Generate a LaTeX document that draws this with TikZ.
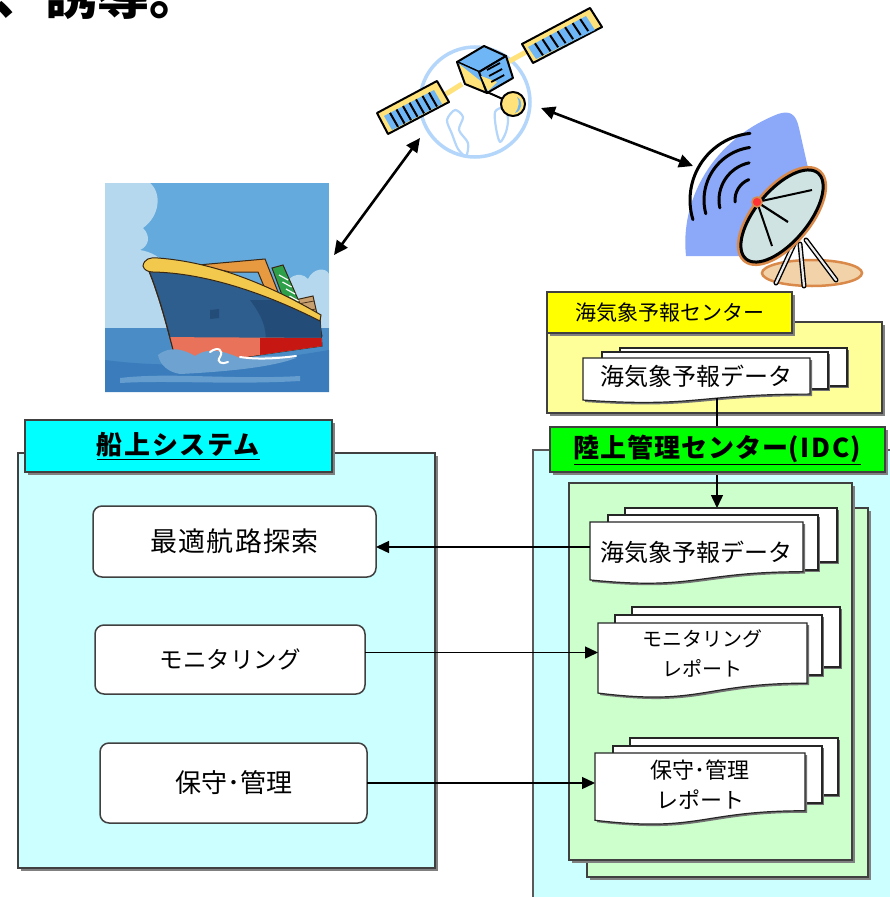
\documentclass[tikz,border=0pt]{standalone}
\usepackage{fontspec}
\setmainfont{Noto Sans CJK JP}
\usetikzlibrary{arrows.meta,shadows}

\definecolor{skyA}{HTML}{64AADC}
\definecolor{cloud}{HTML}{B6D8EE}
\definecolor{sea}{HTML}{4A8CC6}
\definecolor{seaD}{HTML}{3A7CBC}
\definecolor{hull}{HTML}{2E5E8E}
\definecolor{hullD}{HTML}{234C78}
\definecolor{gunwale}{HTML}{F2C94C}
\definecolor{redhull}{HTML}{E8735A}
\definecolor{boom}{HTML}{E89A40}
\definecolor{cont}{HTML}{2EA04A}
\definecolor{cargo}{HTML}{C8A070}
\definecolor{satY}{HTML}{FFE27A}
\definecolor{satB}{HTML}{6EB6F6}
\definecolor{globe}{HTML}{B4D6FA}
\definecolor{wedge}{HTML}{8CA8F8}
\definecolor{dishin}{HTML}{CFE4E2}
\definecolor{rim}{HTML}{D98A4A}
\definecolor{ground}{HTML}{F2D2A8}
\definecolor{lcyan}{HTML}{CCFFFF}
\definecolor{hcyan}{HTML}{00FFFF}
\definecolor{hyellow}{HTML}{FFFF00}
\definecolor{pyellow}{HTML}{FFFF99}
\definecolor{pgreen}{HTML}{CCFFCC}
\definecolor{bgreen}{HTML}{00FF00}
\definecolor{frame}{HTML}{404040}

\newcommand\fsz[2]{\fontsize{#1}{#2}\selectfont}
\newcommand\spaced[2]{{\addfontfeatures{LetterSpace=#1}#2}}

% a document sheet with a wavy lower edge: x1 y1 x2 y2
\newcommand\docsheet[4]{%
  \filldraw[docpg] (#1,#2) -- (#3,#2) -- (#3,{#2+0.802*(#4-#2)})
    .. controls ({(#1+#3)/2},{#2+0.802*(#4-#2)}) and ({(#1+#3)/2},{#2+1.107*(#4-#2)})
    .. (#1,{#2+0.934*(#4-#2)}) -- cycle;}
\newcommand\sheetback[4]{\filldraw[docpg] (#1,#2) rectangle (#3,#4);}

\tikzset{
  shad/.style={drop shadow={shadow xshift=3pt,shadow yshift=-3pt,fill=black!50,opacity=1}},
  panel/.style={draw=frame, line width=1.2pt, shad},
  hdr/.style={draw=frame, line width=1.2pt, shad, inner sep=0, outer sep=0},
  docpg/.style={fill=white, draw=black!85, line width=1.2pt,
    drop shadow={shadow xshift=2pt,shadow yshift=-2pt,fill=black!55,opacity=1}},
  doctxt/.style={inner sep=0, outer sep=0, align=center},
  rbox/.style={draw=frame, line width=1.5pt, fill=white, rounded corners=9pt, inner sep=0, outer sep=0},
  conn/.style={line width=1.4pt, -{Triangle[length=13pt,width=12pt]}},
  dbl/.style={line width=2.6pt, {Triangle[length=14pt,width=13pt]}-{Triangle[length=14pt,width=13pt]}},
  sat/.style={draw=black, line width=2pt, line join=round},
  globeline/.style={draw=globe, line width=2.2pt, line join=round},
}

\begin{document}
\begin{tikzpicture}[x=1pt,y=-1pt]
\useasboundingbox (0,0) rectangle (889,897);
\fill[white] (0,0) rectangle (889,897);

% heading line running off the top edge
\node[anchor=base west, inner sep=0] (ttl) at (-7,14) {\fsz{52}{60}\bfseries 、誘導。};

% ---------- globe ----------
\draw[globe, line width=3.5pt] (475,102) circle[radius=55];
\draw[globeline] plot[smooth cycle] coordinates {(447,120) (455,110) (463,117) (459,130) (468,143) (466,156) (458,149) (452,134)};
\draw[globeline] plot[smooth cycle] coordinates {(495,112) (503,108) (508,118) (506,132) (500,142) (496,128)};

% ---------- satellite ----------
\draw[satY, line width=5pt] (446,94) -- (462,84);
\draw[satY, line width=5pt] (506,63) -- (526,52);
\filldraw[sat, fill=satY] (377,113) -- (437,81) -- (449,102) -- (388,134) -- cycle;
\fill[satB] (384,116) -- (434,90) -- (442,104) -- (392,130) -- cycle;
\foreach \t in {0.12,0.25,0.38,0.51,0.64,0.77,0.9}
  \draw[line width=2pt] ({384+\t*50},{116-\t*26}) -- ({392+\t*50},{130-\t*26});
\filldraw[sat, fill=satY] (522,44) -- (590,8) -- (602,27) -- (533,63) -- cycle;
\fill[satB] (528,47) -- (586,16) -- (595,30) -- (536,59) -- cycle;
\foreach \t in {0.12,0.25,0.38,0.51,0.64,0.77,0.9}
  \draw[line width=2pt] ({528+\t*58},{47-\t*31}) -- ({536+\t*58},{59-\t*31});
% body
\filldraw[sat, fill=satB] (457,62) -- (484,46) -- (506,56) -- (479,72) -- cycle;
\filldraw[sat, fill=satY] (457,62) -- (479,72) -- (487,93) -- (465,84) -- cycle;
\fill[satB] (458,63) -- (478,72) -- (482,82) -- cycle;
\filldraw[sat, fill=satB] (479,72) -- (506,56) -- (513,78) -- (487,93) -- cycle;
\fill[satY] (481,76) -- (497,82) -- (488,91) -- cycle;
\foreach \s in {0,6,12}
  \draw[line width=1.8pt] ({487+\s*0.35},{70+\s}) -- ({500+\s*0.35},{63+\s});
% antenna ball
\draw[line width=2pt] (487,92) -- (505,100);
\filldraw[sat, fill=satY] (513,104) circle[radius=12];
\fill[satB] (517,97) .. controls (524,101) and (522,111) .. (515,113) .. controls (519,108) and (520,101) .. (517,97) -- cycle;

% ---------- ground station ----------
\fill[wedge] (686,256) .. controls (680,200) and (712,140) .. (778,114)
  .. controls (790,110) and (796,114) .. (799,128) -- (808,168) -- (748,256) -- cycle;
\foreach \r/\a/\b in {22/-112/-185, 38/-102/-192, 53/-98/-195, 67/-96/-197}
  \draw[line width=3pt, line cap=round] (757,200) ++(\a:\r) arc[start angle=\a, end angle=\b, radius=\r];
\filldraw[fill=ground, draw=rim, line width=2.5pt] (812,273) ellipse[x radius=50, y radius=13];
\foreach \p/\q in {{(795,242)}/{(776,283)}, {(800,244)}/{(804,286)}, {(806,240)}/{(836,280)}} {
  \draw[line width=5pt, line cap=round] \p -- \q;
  \draw[gray!15, line width=2.2pt, line cap=round] \p -- \q;
}
\draw[rim, line width=8pt, shift={(782,216)}, rotate=50] (0,0) ellipse[x radius=56, y radius=26];
\filldraw[fill=dishin, draw=black, line width=3pt, shift={(782,216)}, rotate=50] (0,0) ellipse[x radius=56, y radius=26];
\draw[line width=2.2pt] (757,202) -- (788,222);
\draw[line width=2pt] (757,202) -- (772,246);
\draw[line width=2pt] (757,202) -- (812,190);
\filldraw[fill=red!80!white, draw=rim, line width=1.5pt] (757,202) circle[radius=5];

% ---------- ship picture ----------
\begin{scope}
\clip (105,183) rectangle (329,392);
\fill[skyA] (105,183) rectangle (329,392);
\fill[cloud] (105,183) -- (150,183) .. controls (162,193) and (160,216) .. (143,228)
  .. controls (151,236) and (149,246) .. (140,250) .. controls (152,252) and (162,258) .. (166,266)
  -- (182,328) -- (105,328) -- cycle;
\fill[cloud] (283,292) .. controls (285,276) and (300,270) .. (308,279)
  .. controls (313,268) and (326,267) .. (329,274) -- (329,330) -- (283,330) -- cycle;
\fill[sea] (105,328) rectangle (329,392);
\fill[seaD] (105,360) .. controls (180,370) and (260,362) .. (329,350) -- (329,392) -- (105,392) -- cycle;
\fill[sea!85!white] (120,378) .. controls (170,372) and (230,380) .. (300,376) -- (300,381) .. controls (230,385) and (170,380) .. (120,383) -- cycle;
% cargo and superstructure
\filldraw[fill=boom, draw=black!70!brown, line width=1pt] (198,265) -- (265,259) -- (280,297) -- (268,296) -- (258,272) -- (230,272) -- cycle;
\filldraw[fill=cargo, draw=black!70!brown, line width=1pt] (295,300) -- (313,296) -- (322,336) -- (308,338) -- cycle;
\foreach \s in {0,8,16,24} \draw[black!60!brown, line width=0.8pt] ({298+\s*0.3},{304+\s}) -- ({314+\s*0.2},{301+\s});
\filldraw[fill=cont, draw=black!70!brown, line width=1pt] (272,268) -- (283,265) -- (301,306) -- (298,316) -- (289,314) -- cycle;
\foreach \s in {0,7,14,21} \draw[white, line width=1.2pt] ({279+\s*0.5},{275+\s}) -- ({288+\s*0.5},{280+\s});
% hull
\filldraw[fill=hull, draw=black!70!brown, line width=1pt]
  (145,262) .. controls (200,262) and (262,286) .. (320,318) -- (322,346)
  .. controls (280,352) and (220,360) .. (178,369)
  .. controls (168,330) and (158,290) .. (145,262) -- cycle;
\begin{scope}
\clip (145,262) .. controls (200,262) and (262,286) .. (320,318) -- (322,346)
  .. controls (280,352) and (220,360) .. (178,369)
  .. controls (168,330) and (158,290) .. (145,262) -- cycle;
\fill[hullD] (250,300) .. controls (265,320) and (270,335) .. (262,360) -- (330,360) -- (330,300) -- cycle;
\fill[redhull] (150,337) -- (330,338) -- (330,380) -- (150,380) -- cycle;
\fill[red!75!black!80!redhull] (260,338) -- (330,338) -- (330,380) -- (260,380) -- cycle;
\end{scope}
\draw[black!70!brown, line width=1pt] (178,369) .. controls (168,330) and (158,290) .. (145,262);
\filldraw[fill=gunwale, draw=black!70!brown, line width=1pt]
  (143,266) .. controls (144,259) and (150,257) .. (158,258)
  .. controls (212,262) and (266,283) .. (321,315) -- (320,321)
  .. controls (265,293) and (205,273) .. (153,272) .. controls (148,272) and (144,270) .. (143,266) -- cycle;
\fill[hullD] (210,310) -- (219,309) -- (219,318) -- (210,319) -- cycle;
% bow wave
\fill[sea!80!white] (158,355) .. controls (170,345) and (185,350) .. (195,356)
  .. controls (210,346) and (225,352) .. (240,358) .. controls (260,356) and (280,355) .. (296,358)
  .. controls (270,368) and (220,372) .. (180,374) .. controls (168,372) and (160,365) .. (158,355) -- cycle;
\draw[white, line width=2pt, line cap=round] (240,357) .. controls (260,360) and (280,358) .. (296,356);
\draw[white, line width=2pt, line cap=round] (210,352) .. controls (218,346) and (224,350) .. (220,357) .. controls (216,362) and (222,365) .. (228,362);
\end{scope}

% ---------- radio links ----------
\coordinate (shipA) at (334,255);
\coordinate (satA) at (420,138);
\coordinate (satB) at (541,108);
\coordinate (dishA) at (693,166);
\draw[dbl] (shipA) -- (satA);
\draw[dbl] (satB) -- (dishA);

% ---------- forecast centre ----------
\node[panel, fill=pyellow, inner sep=0, outer sep=0, minimum width=335, minimum height=91] (fcPanel) at (714.5,367.5) {};
\node[hdr, fill=hyellow, minimum width=245, minimum height=41] (fcHdr) at (669.5,312.5) {\fsz{21}{26}海気象予報センター};
\sheetback{620}{348}{847}{386}
\sheetback{602}{352}{828}{389}
\docsheet{583}{358}{810}{403}
\node[doctxt, minimum width=227, minimum height=45] (docA) at (696.5,380.5)
  {\fsz{24}{30}\raisebox{4.5pt}[\height][\depth]{海気象予報データ}};

% ---------- land-side centre ----------
\filldraw[fill=lcyan, draw=gray!70!black, line width=1.2pt] (533,450) rectangle (905,915);
\node[panel, fill=pgreen, inner sep=0, outer sep=0, minimum width=281, minimum height=369] (gBack) at (727.5,692.5) {};
\node[panel, fill=pgreen, inner sep=0, outer sep=0, minimum width=283, minimum height=377] (gFront) at (710.5,671.5) {};
\coordinate (bTop) at (625,508);
\path ([xshift=20.5pt, yshift=5pt]docA.south) coordinate (aOut);
\draw[conn] (aOut) -- (aOut |- bTop);
\node[hdr, fill=bgreen, minimum width=335, minimum height=45] (idcHdr) at (717.5,449.5)
  {\fsz{26}{30}\bfseries\underline{\spaced{4}{陸上管理センター}\spaced{6}{(IDC)}}};

\sheetback{625}{508}{837}{562}
\sheetback{608}{515}{818}{570}
\docsheet{590}{522}{803}{584}
\node[doctxt, minimum width=213, minimum height=62] (docB) at (696.5,553)
  {\fsz{24}{30}\raisebox{1pt}[\height][\depth]{海気象予報データ}};

\sheetback{632}{607}{840}{667}
\sheetback{615}{615}{822}{675}
\docsheet{598}{623}{807}{698}
\node[doctxt, minimum width=209, minimum height=75] (docC) at (702.5,660.5)
  {\fsz{20}{30}\raisebox{5.5pt}[\height][\depth]{\begin{tabular}{@{}c@{}}モニタリング\\レポート\end{tabular}}};

\sheetback{630}{738}{838}{795}
\sheetback{613}{746}{822}{803}
\docsheet{595}{753}{805}{825}
\node[doctxt, minimum width=210, minimum height=72] (docD) at (700,789)
  {\fsz{22}{30}\raisebox{2pt}[\height][\depth]{\begin{tabular}{@{}c@{}}保守･管理\\レポート\end{tabular}}};

% ---------- on-board system ----------
\node[panel, fill=lcyan, inner sep=0, outer sep=0, minimum width=417, minimum height=415] (shipPanel) at (226.5,660.5) {};
\node[hdr, fill=hcyan, minimum width=307, minimum height=52] (shipHdr) at (178.5,446)
  {\fsz{26}{30}\bfseries\underline{\spaced{6}{船上システム}}};
\node[rbox, minimum width=283, minimum height=71] (route) at (234.5,541.5) {\fsz{27}{30}\spaced{5}{最適航路探索}};
\node[rbox, minimum width=270, minimum height=69] (mon) at (230,659.5) {\fsz{23.5}{30}モニタリング};
\node[rbox, minimum width=267, minimum height=80] (mnt) at (233.5,783) {\fsz{26}{30}保守･管理};

% ---------- data flows ----------
\path ([yshift=6pt]docB.west) coordinate (bw);
\draw[conn] (bw) -- (bw -| route.east);
\path ([yshift=7pt]mon.east) coordinate (me);
\draw[conn] (me) -- (me -| docC.west);
\draw[conn] (mnt.east) -- (mnt.east -| docD.west);
\end{tikzpicture}
\end{document}
